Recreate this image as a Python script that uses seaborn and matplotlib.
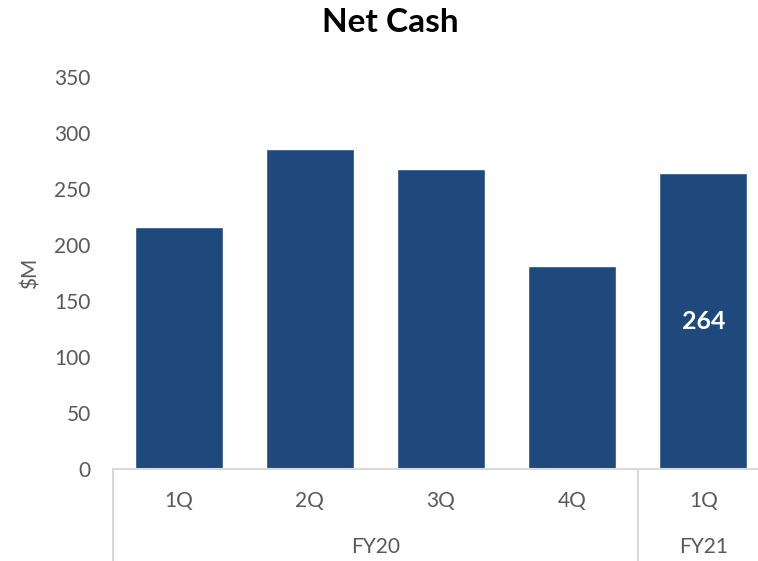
import matplotlib
matplotlib.use("Agg")
import matplotlib.pyplot as plt
import matplotlib.transforms as mtransforms
import seaborn as sns
import pandas as pd

# Net cash by quarter ($M)
quarters = ["1Q", "2Q", "3Q", "4Q", "1Q"]
fiscal_years = ["FY20", "FY20", "FY20", "FY20", "FY21"]
net_cash = [216, 286, 268, 181, 264]
y_ticks = [0, 50, 100, 150, 200, 250, 300, 350]

BAR_COLOR = "#1F497C"
TEXT_COLOR = "#595959"
GRID_COLOR = "#D9D9D9"

sns.set_theme(style="white")
plt.rcParams["font.family"] = ["Lato", "DejaVu Sans"]

df = pd.DataFrame({
    "slot": [f"{fy}-{q}" for fy, q in zip(fiscal_years, quarters)],
    "value": net_cash,
})

W, H = 758, 561
fig = plt.figure(figsize=(W / 100, H / 100), dpi=100)
left, right, top, bottom = 113, 769, 77, 469
ax = fig.add_axes([left / W, (H - bottom) / H, (right - left) / W, (bottom - top) / H])

sns.barplot(data=df, x="slot", y="value", color=BAR_COLOR, saturation=1,
            width=0.67, ax=ax)

ax.set_ylim(0, 350)
ax.set_xlim(-0.5, len(quarters) - 0.5)
ax.set_yticks(y_ticks)
ax.set_yticklabels([str(t) for t in y_ticks], fontsize=15, color=TEXT_COLOR)
ax.tick_params(axis="y", length=0, pad=16)
ax.set_xticks([])
ax.set_xlabel("")
ax.set_ylabel("$M", fontsize=15, color=TEXT_COLOR)
ax.yaxis.set_label_coords((41 - left) / (right - left), 0.5)

for side in ["top", "right", "left"]:
    ax.spines[side].set_visible(False)
ax.spines["bottom"].set_color(GRID_COLOR)
ax.spines["bottom"].set_linewidth(1.5)

# multi-level category axis
trans = mtransforms.blended_transform_factory(ax.transData, ax.transAxes)
px = 1.0 / (bottom - top)  # one pixel in axes-fraction units
for i, q in enumerate(quarters):
    ax.text(i, -32 * px, q, transform=trans, ha="center", va="center",
            fontsize=15, color=TEXT_COLOR)

groups = []
for i, fy in enumerate(fiscal_years):
    if not groups or groups[-1][0] != fy:
        groups.append([fy, i, i])
    else:
        groups[-1][2] = i
for fy, start, end in groups:
    ax.text((start + end) / 2, -78 * px, fy, transform=trans, ha="center",
            va="center", fontsize=15, color=TEXT_COLOR)
    for edge in (start - 0.5, end + 0.5):
        ax.plot([edge, edge], [0, -(H - bottom) * px], transform=trans,
                color=GRID_COLOR, lw=1.5, clip_on=False)

# value label on the latest quarter
last = len(net_cash) - 1
ax.text(last, net_cash[last] / 2, str(net_cash[last]), ha="center",
        va="center", fontsize=18, fontweight="bold", color="white")

fig.text(390 / W, 1 - 22 / H, "Net Cash", ha="center", va="center",
         fontsize=24, fontweight="bold", color="black")

fig.savefig("out.png", dpi=100)
